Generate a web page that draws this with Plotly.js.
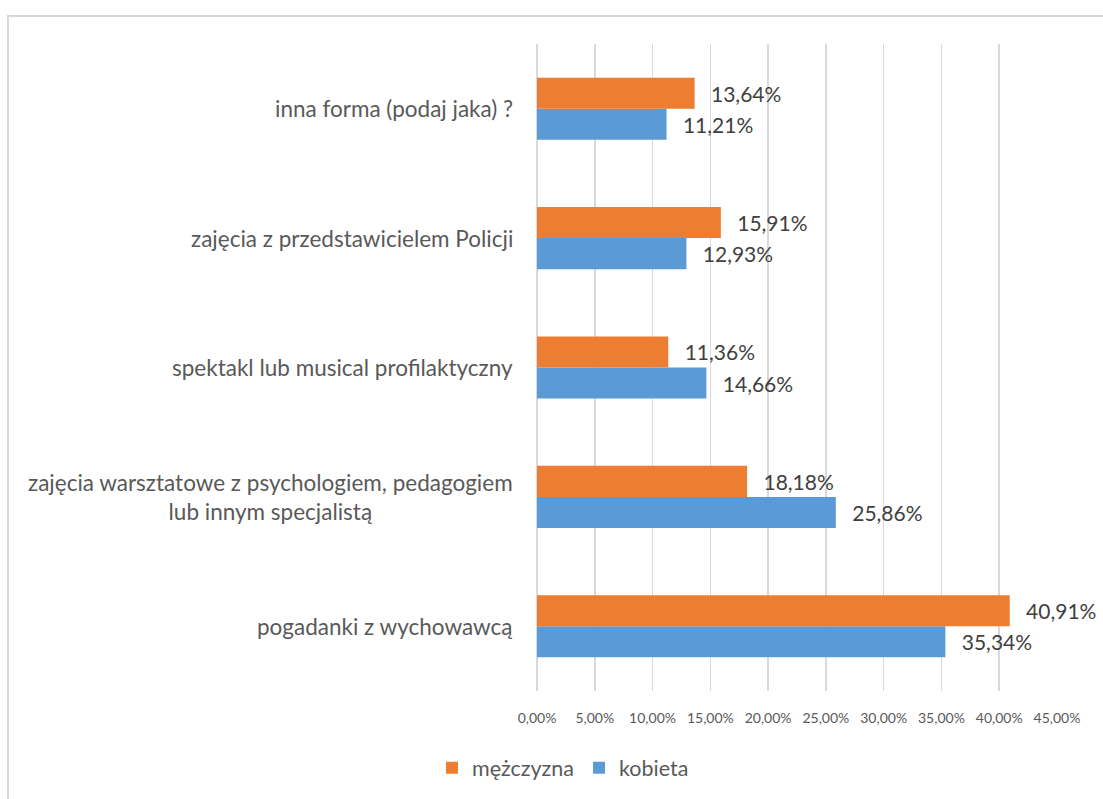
<!DOCTYPE html>
<html>
<head>
<meta charset="utf-8">
<script src="https://cdn.plot.ly/plotly-3.0.1.min.js"></script>
<style>
  html, body { margin: 0; padding: 0; background: #ffffff; overflow: hidden; }
  #chart { width: 1103px; height: 799px; }
  #frame { position: absolute; left: 7px; top: 15px; width: 1200px; height: 900px;
           border-left: 2px solid #d9d9d9; border-top: 2px solid #d9d9d9; pointer-events: none; }
</style>
</head>
<body>
<div id="chart"></div>
<div id="frame"></div>
<script>
// Categories listed bottom to top
const categories = [
  'pogadanki z wychowawcą',
  'zajęcia warsztatowe z psychologiem, pedagogiem<br>lub innym specjalistą',
  'spektakl lub musical profilaktyczny',
  'zajęcia z przedstawicielem Policji',
  'inna forma (podaj jaka) ?'
];
const seriesNames = ['kobieta', 'mężczyzna'];
const kobieta   = [35.34, 25.86, 14.66, 12.93, 11.21];
const mezczyzna = [40.91, 18.18, 11.36, 15.91, 13.64];
const xTicks = [0, 5, 10, 15, 20, 25, 30, 35, 40, 45];
const xTickText = ['0,00%', '5,00%', '10,00%', '15,00%', '20,00%', '25,00%', '30,00%', '35,00%', '40,00%', '45,00%'];

const FONT = 'Lato, "Open Sans", sans-serif';
const pad = '\u00a0\u00a0\u2009';

const common = {
  type: 'bar',
  orientation: 'h',
  y: categories,
  textposition: 'outside',
  texttemplate: pad + '%{x:.2f}%',
  textfont: { family: FONT, size: 21, color: '#404040' },
  constraintext: 'none',
  cliponaxis: false,
  hoverinfo: 'skip'
};

const traces = [
  Object.assign({}, common, { name: seriesNames[0], x: kobieta, marker: { color: '#5B9BD5' } }),
  Object.assign({}, common, { name: seriesNames[1], x: mezczyzna, marker: { color: '#ED7D31' } })
];

const annotations = categories.map(c => ({
  xref: 'paper', yref: 'y', x: 0, y: c, xshift: -22,
  xanchor: 'right', yanchor: 'middle', align: 'center',
  text: c, showarrow: false,
  font: { family: FONT, size: 22.5, color: '#595959' }
}));

const layout = {
  width: 1103, height: 799,
  paper_bgcolor: '#ffffff', plot_bgcolor: '#ffffff',
  margin: { l: 537, r: 46, t: 44, b: 107 },
  separators: ', ',
  barmode: 'group',
  bargap: 0.52,
  bargroupgap: 0,
  font: { family: FONT, color: '#595959' },
  xaxis: {
    range: [0, 45],
    tickmode: 'array',
    tickvals: xTicks,
    ticktext: xTickText,
    showgrid: true, gridcolor: '#d9d9d9', gridwidth: 1.5,
    zeroline: true, zerolinecolor: '#d9d9d9', zerolinewidth: 1.5,
    showline: false,
    ticks: 'outside', ticklen: 14, tickcolor: 'rgba(0,0,0,0)',
    tickfont: { family: FONT, size: 14, color: '#595959' },
    fixedrange: true
  },
  yaxis: {
    type: 'category',
    categoryarray: categories,
    showticklabels: false,
    showgrid: false, zeroline: false, showline: false,
    fixedrange: true
  },
  annotations: annotations,
  showlegend: true,
  legend: {
    orientation: 'h', traceorder: 'reversed',
    x: 0.05, xanchor: 'center', y: -0.117, yanchor: 'middle',
    font: { family: FONT, size: 21.5, color: '#595959' },
    itemclick: false, itemdoubleclick: false
  }
};

Plotly.newPlot('chart', traces, layout, { displayModeBar: false, staticPlot: true });
</script>
</body>
</html>
